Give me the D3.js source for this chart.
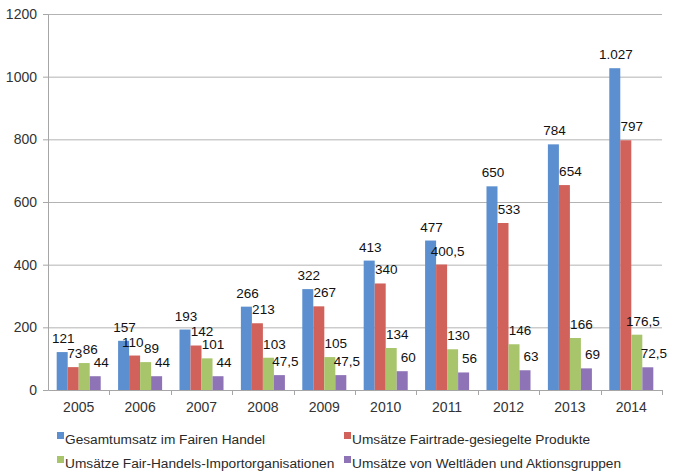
<!DOCTYPE html>
<meta charset="utf-8">
<style>
body { margin: 0; background: #fff; }
svg { font-family: "Liberation Sans", Helvetica, Arial, sans-serif; }
.axis text { fill: #333; font-size: 14px; }
.axis path, .axis line { stroke: #a6a6a6; }
.grid line { stroke: #b3b3b3; }
.lbl { fill: #111; font-size: 13.5px; }
.legend text { fill: #2a2a2a; font-size: 13.7px; }
</style>
<body>
<script src="https://d3js.org/d3.v7.min.js"></script>
<script>

var years = ["2005","2006","2007","2008","2009","2010","2011","2012","2013","2014"];
var seriesNames = [
  "Gesamtumsatz im Fairen Handel",
  "Umsätze Fairtrade-gesiegelte Produkte",
  "Umsätze Fair-Handels-Importorganisationen",
  "Umsätze von Weltläden und Aktionsgruppen"
];
var gesamt = [121, 157, 193, 266, 322, 413, 477, 650, 784, 1027];
var fairtrade = [73, 110, 142, 213, 267, 340, 400.5, 533, 654, 797];
var importOrg = [86, 89, 101, 103, 105, 134, 130, 146, 166, 176.5];
var weltlaeden = [44, 44, 44, 47.5, 47.5, 60, 56, 63, 69, 72.5];
var yTicks = [0, 200, 400, 600, 800, 1000, 1200];
var colors = ["#5b8fcf", "#d1625b", "#a8c56b", "#8e74b6"];

var series = [gesamt, fairtrade, importOrg, weltlaeden];

var margin = {top: 14, right: 11, bottom: 82, left: 48},
    width = 673 - margin.left - margin.right,
    height = 472 - margin.top - margin.bottom;

var svg = d3.select("body").append("svg")
    .attr("width", 673)
    .attr("height", 472)
  .append("g")
    .attr("transform", "translate(" + margin.left + "," + margin.top + ")");

var x = d3.scaleBand()
    .domain(years)
    .range([0, width])
    .paddingInner(0.283)
    .paddingOuter(0.1415);

var x1 = d3.scaleBand()
    .domain(d3.range(series.length))
    .range([0, x.bandwidth()]);

var y = d3.scaleLinear()
    .domain([0, 1200])
    .range([height, 0]);

// gridlines
svg.append("g")
    .attr("class", "grid")
  .selectAll("line")
    .data(yTicks.slice(1))
  .enter().append("line")
    .attr("x1", 0)
    .attr("x2", width)
    .attr("y1", function(d) { return y(d) + 0.5; })
    .attr("y2", function(d) { return y(d) + 0.5; });

// bars
var groups = svg.selectAll(".year")
    .data(years)
  .enter().append("g")
    .attr("class", "year")
    .attr("transform", function(d) { return "translate(" + x(d) + ",0)"; });

var cells = function(d, i) { return series.map(function(s, k) { return {k: k, v: s[i]}; }); };

groups.selectAll("rect")
    .data(cells)
  .enter().append("rect")
    .attr("x", function(d) { return x1(d.k); })
    .attr("width", x1.bandwidth())
    .attr("y", function(d) { return y(d.v); })
    .attr("height", function(d) { return height - y(d.v); })
    .style("fill", function(d) { return colors[d.k]; });

var fmt = function(v) {
  if (v >= 1000) return d3.format(",")(v).replace(",", ".");
  return String(v).replace(".", ",");
};

var labels = groups.selectAll(".lbl")
    .data(cells)
  .enter().append("text")
    .attr("class", "lbl")
    .attr("text-anchor", "middle")
    .attr("x", function(d) { return x1(d.k) + x1.bandwidth() / 2 + (d.k === 0 ? 1 : 6); })
    .attr("y", function(d) { return y(d.v) - 9; })
    .text(function(d) { return fmt(d.v); });

// nudge a label left, then up, when it runs into the one to its right
groups.each(function() {
  var placed = [];
  var nodes = d3.select(this).selectAll(".lbl").nodes().reverse();
  var overlap = function(b) {
    var worst = 0;
    placed.forEach(function(p) {
      var ox = Math.min(b.x + b.width, p.x + p.width) - Math.max(b.x, p.x);
      var oy = Math.min(b.y + b.height, p.y + p.height) - Math.max(b.y, p.y);
      if (ox > 0 && oy > 2) worst = Math.max(worst, ox);
    });
    return worst;
  };
  nodes.forEach(function(n) {
    var b = n.getBBox();
    var xx = +n.getAttribute("x"), yy = +n.getAttribute("y");
    var ox = overlap(b);
    if (ox > 0 && ox <= 10) { xx -= ox + 0.5; b.x -= ox + 0.5; }
    var guard = 0;
    while (overlap(b) > 0 && guard++ < 60) { yy -= 1; b.y -= 1; }
    n.setAttribute("x", xx);
    n.setAttribute("y", yy);
    placed.push(b);
  });
});

// axes
var xAxis = d3.axisBottom(x).tickSize(0).tickPadding(12);
var gx = svg.append("g")
    .attr("class", "x axis")
    .attr("transform", "translate(0," + height + ")")
    .call(xAxis);
gx.select(".domain").attr("d", "M0.5,0.5H" + width);
gx.selectAll(".sep")
    .data(years)
  .enter().append("line")
    .attr("class", "sep")
    .attr("x1", function(d) { return Math.round(x(d) + x.bandwidth() + x.step() * x.paddingInner() / 2) + 0.5; })
    .attr("x2", function(d) { return Math.round(x(d) + x.bandwidth() + x.step() * x.paddingInner() / 2) + 0.5; })
    .attr("y1", 0)
    .attr("y2", 5)
    .style("stroke", "#a6a6a6");

var yAxis = d3.axisLeft(y).tickValues(yTicks).tickSize(5).tickPadding(6)
    .tickFormat(d3.format("d"));
svg.append("g")
    .attr("class", "y axis")
    .call(yAxis);

// legend
var legend = svg.append("g")
    .attr("class", "legend")
    .attr("transform", "translate(0," + (height + 54) + ")");

var items = legend.selectAll("g")
    .data(seriesNames)
  .enter().append("g")
    .attr("transform", function(d, i) {
      return "translate(" + (i % 2 === 0 ? 9 : 296) + "," + (i < 2 ? 0 : 24) + ")";
    });

items.append("rect")
    .attr("width", 7)
    .attr("height", 7)
    .attr("y", -12)
    .style("fill", function(d, i) { return colors[i]; });

items.append("text")
    .attr("x", 8)
    .attr("y", 0)
    .text(function(d) { return d; });

</script>
